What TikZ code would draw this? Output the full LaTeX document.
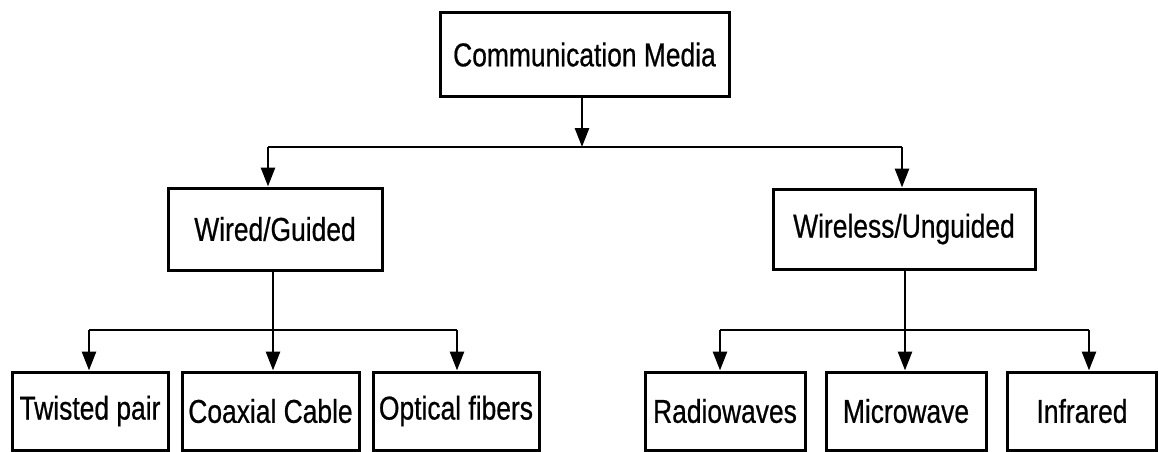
\documentclass[tikz,border=0pt]{standalone}
\usepackage{fontspec}
\setmainfont[FakeStretch=0.8,FakeBold=0.6]{Liberation Sans}
\usetikzlibrary{arrows.meta}
\begin{document}
\begin{tikzpicture}[x=1pt,y=-1pt,
  box/.style={draw,line width=3pt,inner sep=0pt,
    font=\fontsize{33}{37}\selectfont},
  link/.style={line width=2.8pt},
  arr/.style={link,-{Triangle[length=19pt,width=14pt]}}]
\useasboundingbox (0,0) rectangle (1159,452);

% root and second level
\node[box,minimum width=289pt,minimum height=83pt] (cm) at (584.5,54.5) {Communication Media};
\node[box,minimum width=214pt,minimum height=82pt] (wired) at (275,229) {Wired/Guided};
\node[box,minimum width=262pt,minimum height=80pt] (wless) at (904,229) {Wireless/Unguided};

% leaves
\node[box,minimum width=156pt,minimum height=78pt] (tp) at (90,411) {Twisted pair};
\node[box,minimum width=177pt,minimum height=78pt] (cx) at (270.5,411) {Coaxial Cable};
\node[box,minimum width=166pt,minimum height=78pt] (of) at (456,411) {Optical fibers};
\node[box,minimum width=160pt,minimum height=78pt] (rw) at (725,411) {Radiowaves};
\node[box,minimum width=160pt,minimum height=78pt] (mw) at (906,411) {Microwave};
\node[box,minimum width=149pt,minimum height=78pt] (ir) at (1082,411) {Infrared};

% branching points
\coordinate (r0) at (582,147);
\coordinate (r1) at (268,147);
\coordinate (r2) at (902,147);
\coordinate (w0) at (273,330);
\coordinate (w1) at (89,330);
\coordinate (w2) at (457,330);
\coordinate (u0) at (905,330);
\coordinate (u1) at (720,330);
\coordinate (u2) at (1089,330);

% root to second level
\draw[arr] (r0 |- cm.south) -- (r0);
\draw[link] (r1) -- (r2);
\draw[arr] (r1) -- (r1 |- wired.north);
\draw[arr] (r2) -- (r2 |- wless.north);

% wired branch
\draw[link] (w0 |- wired.south) -- (w0);
\draw[link] (w1) -- (w2);
\draw[arr] (w1) -- (w1 |- tp.north);
\draw[arr] (w0) -- (w0 |- cx.north);
\draw[arr] (w2) -- (w2 |- of.north);

% wireless branch
\draw[link] (u0 |- wless.south) -- (u0);
\draw[link] (u1) -- (u2);
\draw[arr] (u1) -- (u1 |- rw.north);
\draw[arr] (u0) -- (u0 |- mw.north);
\draw[arr] (u2) -- (u2 |- ir.north);
\end{tikzpicture}
\end{document}
